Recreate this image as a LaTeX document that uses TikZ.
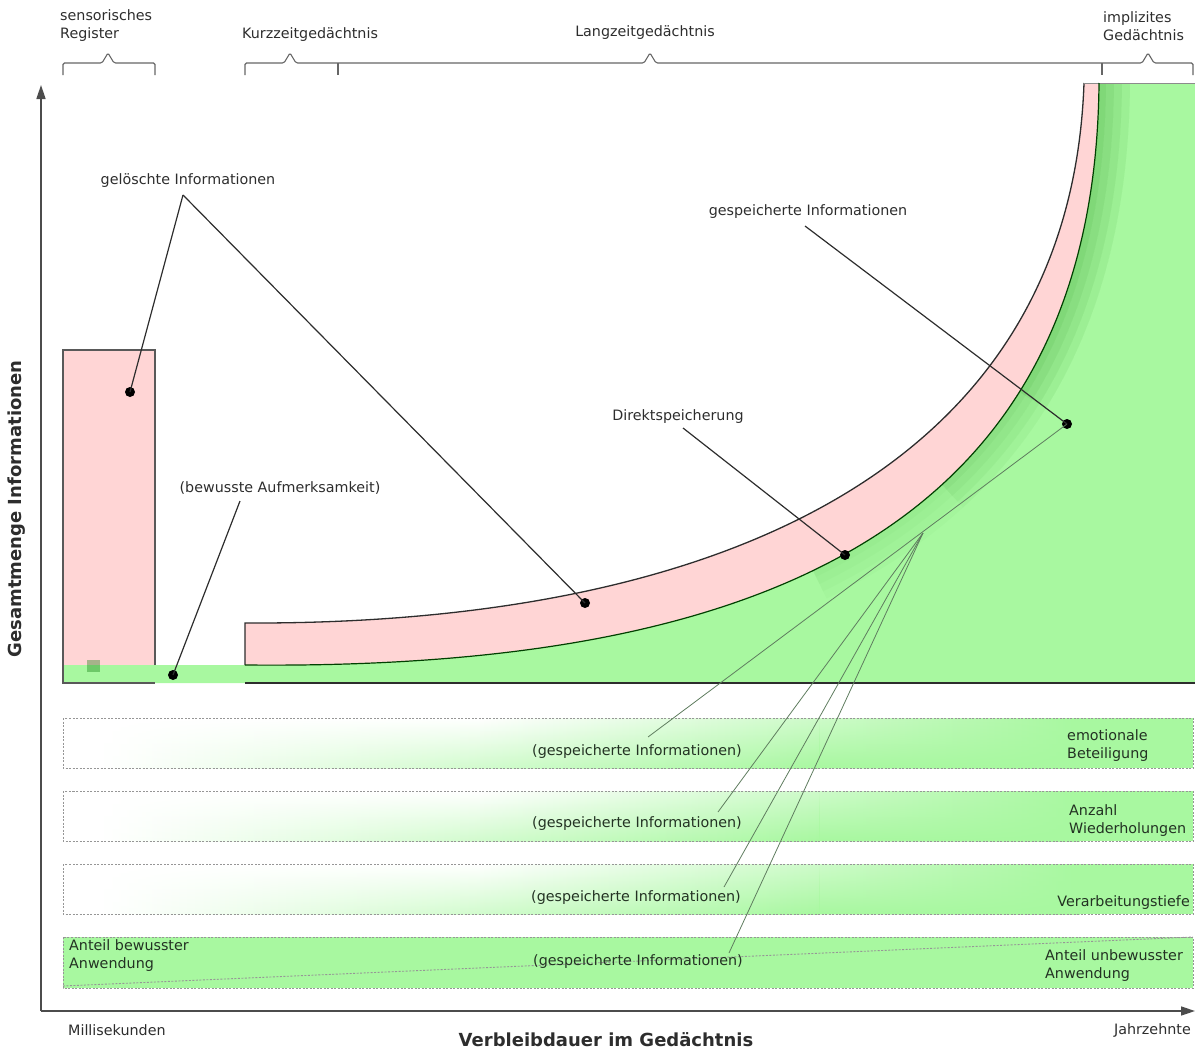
\documentclass[tikz,border=0pt]{standalone}
\usepackage{fontspec}
\setmainfont{DejaVu Sans}
\usetikzlibrary{arrows.meta,fadings}
\definecolor{pinkfill}{RGB}{255,213,213}
\definecolor{gfill}{RGB}{168,248,160}
\definecolor{gshadow}{RGB}{70,170,60}
\definecolor{txt}{RGB}{45,45,45}
\definecolor{btxt}{RGB}{35,50,35}
\definecolor{edgec}{RGB}{45,45,45}
\definecolor{thinc}{RGB}{95,125,95}
\definecolor{dashc}{RGB}{150,150,150}
\tikzfading[name=fadeup, top color=transparent!100, bottom color=transparent!0]
\begin{document}
\begin{tikzpicture}[x=1pt,y=-1pt,
  lbl/.style={inner sep=0pt, text=txt, font=\fontsize{14.3}{18}\selectfont, align=left},
  blbl/.style={lbl, text=btxt},
  axlbl/.style={inner sep=0pt, text=txt, font=\bfseries\fontsize{18}{22}\selectfont},
  dot/.style={circle, fill=black, inner sep=0pt, minimum size=10pt},
  conn/.style={draw=edgec, line width=1.2pt},
  thinconn/.style={draw=thinc, line width=0.8pt},
  bracepath/.style={draw=black!60, line width=1.1pt, rounded corners=1.5pt},
  barbox/.style={draw=dashc, dash pattern=on 2pt off 1.5pt, line width=0.9pt},
  outline/.style={draw=edgec, line width=1.3pt},
  axisline/.style={draw=black!70, line width=1.6pt, -{Triangle[length=14pt,width=9pt]}}]

\useasboundingbox (0,0) rectangle (1195,1052);

% ---------- fills of the memory areas ----------
\fill[pinkfill] (63,350) rectangle (155,665);
\fill[gfill] (63,665) -- (245,665) .. controls (750,670) and (1095,535) .. (1099,83)
  -- (1195,83) -- (1195,683) -- (63,683) -- cycle;
\begin{scope}
  \clip (245,665) .. controls (750,670) and (1095,535) .. (1099,83)
    -- (1195,83) -- (1195,683) -- (245,683) -- cycle;
  \foreach \w in {62,46,30,14}{
    \draw[gshadow, opacity=0.035, line width=\w pt]
      (813.0,570.6) .. controls (991.4,484.3) and (1096.8,331.6) .. (1099,83);
    \draw[gshadow, opacity=0.035, line width=\w pt]
      (942.1,484.6) .. controls (1041.2,393.9) and (1097.4,263.8) .. (1099,83);
    \draw[gshadow, opacity=0.035, line width=\w pt]
      (1019.4,392.0) .. controls (1070.0,311.3) and (1097.9,209.6) .. (1099,83);
  }
\end{scope}
\fill[pinkfill] (245,665) -- (245,623) .. controls (700,625) and (1070,480) .. (1084,83)
  -- (1099,83) .. controls (1095,535) and (750,670) .. (245,665) -- cycle;

% small square
\fill[green!45!black, opacity=0.35] (87,660) rectangle (100,672);

% ---------- outlines ----------
\draw[outline] (245,665) -- (245,623) .. controls (700,625) and (1070,480) .. (1084,83);
\draw[draw=black!45, line width=1pt] (1084,83) -- (1195,83);
\draw[draw=black!75!green, line width=1.2pt] (245,665) .. controls (750,670) and (1095,535) .. (1099,83);
\draw[outline, line width=1.1pt] (245,683) -- (1195,683);
\draw[outline, draw=black!65, line width=1.1pt] (155,665) -- (155,350) -- (63,350) -- (63,683) -- (155,683);

% ---------- braces ----------
\draw[bracepath] (63,75) -- (63,63) -- (102,63) -- (108,53) -- (114,63) -- (155,63) -- (155,75);
\draw[bracepath] (245,75) -- (245,63) -- (284,63) -- (290,53) -- (296,63) -- (644,63)
  -- (650,53) -- (656,63) -- (1142,63) -- (1148,53) -- (1154,63) -- (1193,63) -- (1193,75);
\draw[bracepath] (338,63) -- (338,75);
\draw[bracepath] (1102,63) -- (1102,75);

\node[lbl, anchor=west] (sreg) at (60,26) {sensorisches\\Register};
\node[lbl, anchor=west] (kzg) at (242,35) {Kurzzeitgedächtnis};
\node[lbl] (lzg) at (645,33) {Langzeitgedächtnis};
\node[lbl, anchor=west] (impl) at (1103,26) {implizites\\Gedächtnis};

% ---------- bars ----------
\foreach \y in {718,791,864}{
  \begin{scope}
    \clip (63,\y) rectangle (1193,\y+50);
    \shade[left color=white, right color=gfill] (480,\y) rectangle (1080,\y+50);
    \fill[gfill] (1079,\y) rectangle (1193,\y+50);
    \shade[left color=white, right color=gfill, path fading=fadeup] (100,\y) rectangle (820,\y+50);
    \fill[gfill, path fading=fadeup] (819,\y) rectangle (1193,\y+50);
  \end{scope}
  \draw[barbox] (63,\y) rectangle (1193,\y+50);
}
\path[barbox, fill=gfill] (63,937) rectangle (1193,988);
\draw[draw=dashc, dash pattern=on 2pt off 1.5pt, line width=0.9pt] (63,986) -- (1193,937);

\node[blbl] (g1) at (637,752) {(gespeicherte Informationen)};
\node[blbl] (g2) at (637,824) {(gespeicherte Informationen)};
\node[blbl] (g3) at (636,898) {(gespeicherte Informationen)};
\node[blbl] (g4) at (638,962) {(gespeicherte Informationen)};
\node[blbl, anchor=west] (emo) at (1067,746) {emotionale\\Beteiligung};
\node[blbl, anchor=west] (wdh) at (1069,821) {Anzahl\\Wiederholungen};
\node[blbl, anchor=east] (vt) at (1190,903) {Verarbeitungstiefe};
\node[blbl, anchor=west] (bew) at (69,956) {Anteil bewusster\\Anwendung};
\node[blbl, anchor=west] (unbew) at (1045,966) {Anteil unbewusster\\Anwendung};

% ---------- annotation labels, dots, connectors ----------
\node[lbl] (geloescht) at (188,181) {gelöschte Informationen};
\node[lbl] (gespeich) at (808,212) {gespeicherte Informationen};
\node[lbl] (direkt) at (678,417) {Direktspeicherung};
\node[lbl] (aufm) at (280,488) {(bewusste Aufmerksamkeit)};

\coordinate (gelstart) at (183,195);
\coordinate (gesstart) at (805,226);
\coordinate (dirstart) at (683,428);
\coordinate (aufstart) at (240,501);
\coordinate (conv) at (923,533);
\coordinate (e1) at (648,737);
\coordinate (e2) at (718,812);
\coordinate (e3) at (724,887);
\coordinate (e4) at (729,953);

\node[dot] (d1) at (130,392) {};
\node[dot] (d2) at (585,603) {};
\node[dot] (d3) at (845,555) {};
\node[dot] (d4) at (1067,424) {};
\node[dot] (d5) at (173,675) {};

\draw[thinconn] (d4.center) -- (e1);
\draw[thinconn] (conv) -- (e2);
\draw[thinconn] (conv) -- (e3);
\draw[thinconn] (conv) -- (e4);

\draw[conn] (gelstart) -- (d1.center);
\draw[conn] (gelstart) -- (d2.center);
\draw[conn] (gesstart) -- (d4.center);
\draw[conn] (dirstart) -- (d3.center);
\draw[conn] (aufstart) -- (d5.center);

% ---------- axes ----------
\coordinate (origin) at (41,1011);
\coordinate (ytip) at (41,85);
\coordinate (xtip) at (1195,1011);
\draw[axisline] (origin) -- (ytip);
\draw[axisline] (origin) -- (xtip);

\node[axlbl, rotate=90] (ylab) at (17,509) {Gesamtmenge Informationen};
\node[axlbl] (xlab) at (606,1040) {Verbleibdauer im Gedächtnis};
\node[lbl, anchor=west] (ms) at (68,1030) {Millisekunden};
\node[lbl, anchor=east] (jz) at (1191,1030) {Jahrzehnte};
\end{tikzpicture}
\end{document}
